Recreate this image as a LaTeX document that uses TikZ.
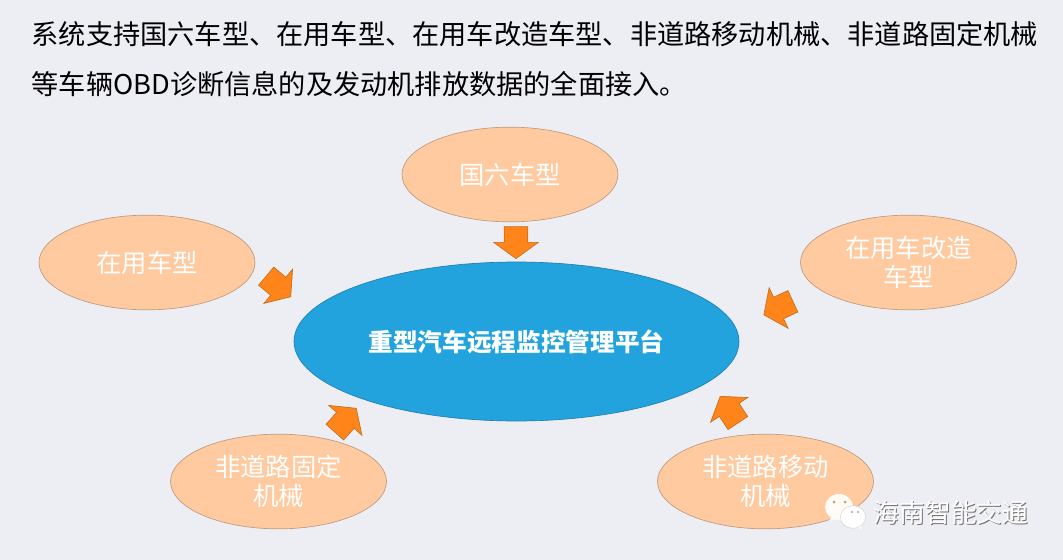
\documentclass[tikz,border=0pt]{standalone}
\usepackage{xcolor}
\usepackage{fontspec}
\usepackage{tikz}
\usetikzlibrary{arrows.meta, positioning, calc, shapes}
\setmainfont{Noto Sans CJK SC}
\definecolor{pagebg}{HTML}{EDEDF4}
\definecolor{peachfill}{HTML}{FFCA9F}
\definecolor{peachline}{HTML}{BF9B7D}
\definecolor{hubfill}{HTML}{23A3DE}
\definecolor{hubline}{HTML}{2080B0}
\definecolor{pushfill}{HTML}{FF8419}
\definecolor{pushline}{HTML}{C4701F}
\tikzset{
    x=0.75pt, y=-0.75pt,
    vehicle/.style={ellipse, draw=peachline, line width=0.5pt, fill=peachfill, text=white, align=center,
        minimum width=162pt, minimum height=71pt, inner sep=0pt,
        font=\fontsize{19}{21.5}\selectfont},
    hub/.style={ellipse, draw=hubline, line width=0.5pt, fill=hubfill, text=white,
        minimum width=333.75pt, minimum height=119.25pt, inner sep=0pt,
        font=\fontsize{18.5}{22}\selectfont\bfseries},
    push/.style={single arrow, draw=pushline, line width=0.5pt, fill=pushfill, anchor=tip,
        minimum height=24pt, inner xsep=0pt, inner ysep=8.6pt, text height=0pt, text depth=0pt,
        text width=0pt, single arrow head extend=7.9pt, single arrow tip angle=108},
    intro/.style={anchor=west, inner sep=0pt, font=\fontsize{20.4}{24}\selectfont},
    bubble/.style={ellipse, fill=#1, inner sep=0pt},
}
\begin{document}
\begin{tikzpicture}
    \fill[pagebg] (0,0) rectangle (1063,560);
    \useasboundingbox (0,0) rectangle (1063,560);
    % intro text
    \node[intro] (introa) at (31.5,34) {系统支持国六车型、在用车型、在用车改造车型、非道路移动机械、非道路固定机械};
    \node[intro] (introb) at (31.5,84) {等车辆OBD诊断信息的及发动机排放数据的全面接入。};
    % platform and vehicle types
    \node[hub] (platform) at (516.5,341.5) {重型汽车远程监控管理平台};
    \node[vehicle] (guoliu) at (510,174.5) {国六车型};
    \node[vehicle] (zaiyong) at (147,262.5) {在用车型};
    \node[vehicle] (gaizao) at (908.5,262.5) {在用车改造\\车型};
    \node[vehicle] (guding) at (278.5,481.5) {非道路固定\\机械};
    \node[vehicle] (yidong) at (765.5,481.5) {非道路移动\\机械};
    % block arrows
    \node[push, rotate=-90] (pusha) at (516,259) {};
    \node[push, rotate=-40] (pushb) at (291,297) {};
    \node[push, rotate=205] (pushc) at (763.5,315) {};
    \node[push, rotate=48] (pushd) at (356.5,408) {};
    \node[push, rotate=123.5] (pushe) at (720,396) {};
    % watermark
    \draw[fill=white!97!orange, draw=none] (829,521) -- (833,514) -- (838,518) -- cycle;
    \node[bubble=white!97!orange, minimum width=21pt, minimum height=19.5pt] (bubblea) at (839,507) {};
    \fill[peachline] (834,502) circle (1.5) (845,502) circle (1.5);
    \draw[fill=white, draw=none] (862,529) -- (853,526) -- (860,522) -- cycle;
    \node[bubble=white, draw=gray!40, line width=0.3pt, minimum width=19pt, minimum height=17pt] (bubbleb) at (853,517) {};
    \fill[gray!70] (852,512) circle (1.2) (858,512) circle (1.2);
    \node[text=gray!90!black, font=\fontsize{19.3}{22}\selectfont, inner sep=0pt] (markshadow) at (952,513.5) {海南智能交通};
    \node[text=white, font=\fontsize{19.3}{22}\selectfont, inner sep=0pt] (mark) at (951,512.5) {海南智能交通};
\end{tikzpicture}
\end{document}
